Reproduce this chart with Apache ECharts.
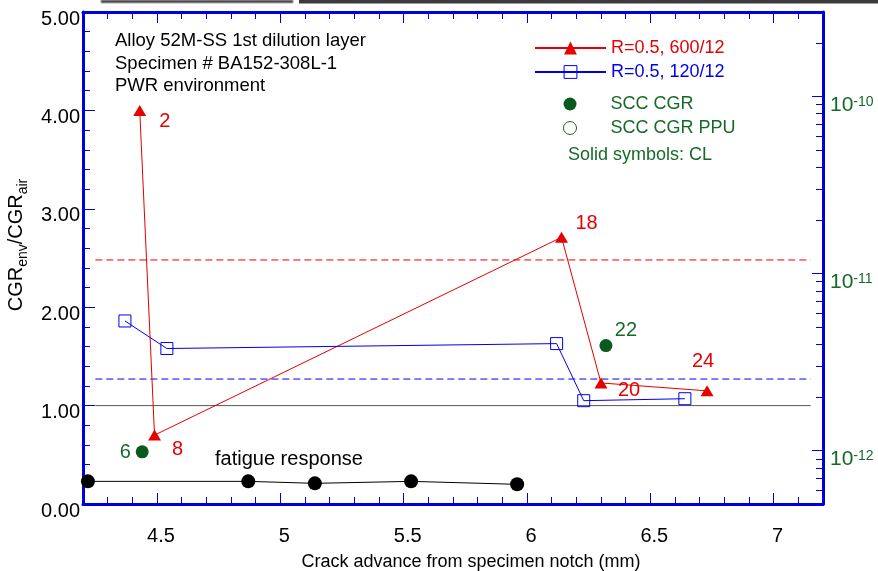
<!DOCTYPE html>
<html>
<head>
<meta charset="utf-8">
<script src="https://cdn.jsdelivr.net/npm/echarts@6/dist/echarts.min.js"></script>
<style>
  html, body { margin: 0; padding: 0; background: #fff; }
  #chart { width: 878px; height: 571px; }
</style>
</head>
<body>
<div id="chart"></div>
<script>
// ---- data: crack advance (mm) vs. CGR_env / CGR_air ----
const red600X   = [4.43, 4.49, 6.14, 6.30, 6.73];
const red600Y   = [4.00, 0.70, 2.71, 1.23, 1.15];
const red600Ids = ['2', '8', '18', '20', '24'];

const blue120X = [4.37, 4.54, 6.12, 6.23, 6.64];
const blue120Y = [1.86, 1.58, 1.63, 1.05, 1.07];

const sccX   = [4.44, 6.32];
const sccY   = [0.53, 1.61];
const sccIds = ['6', '22'];

const fatigueX = [4.22, 4.87, 5.14, 5.53, 5.96];
const fatigueY = [0.23, 0.23, 0.21, 0.23, 0.20];

// horizontal reference levels and their extent along x
const refRedLevel  = 2.48;
const refBlueLevel = 1.27;
const unityLevel   = 1.0;
const refSpan      = [4.25, 7.15];

// annotation text
const infoLines = ['Alloy 52M-SS 1st dilution layer', 'Specimen # BA152-308L-1', 'PWR environment'];

// axis ticks
const xMajorTicks  = [4.5, 5, 5.5, 6, 6.5, 7];
const rightDecades = [1e-12, 1e-11, 1e-10];
const rightMin = 5e-13, rightMax = 3e-10;

// ---- styling ----
const FONT = '"Liberation Sans", Arial, sans-serif';
const AXIS_BLUE = '#0000dd';
const RED = '#e60000';
const BLUE = '#0000ee';
const GREEN = '#17692a';
const GREEN_DOT = '#0a5a1e';

const labelOffsets = {
  '2': [25, 11], '8': [23, 14], '18': [25, -14], '20': [28, 8], '24': [-4, -29],
  '6': [-17, 1], '22': [20, -15]
};

const xMinorTicks = [];
for (let k = 43; k <= 71; k++) if (k % 5 !== 0) xMinorTicks.push(k / 10);

const rightMinor = [];
[1e-13, 1e-12, 1e-11, 1e-10].forEach(d => {
  for (let m = 2; m <= 9; m++) {
    const v = d * m;
    if (v > rightMin * 1.01 && v < rightMax * 0.99) rightMinor.push(v);
  }
});

function pts(xs, ys) { return xs.map((x, i) => [x, ys[i]]); }
function labelled(xs, ys, ids, color) {
  return xs.map((x, i) => ({
    value: [x, ys[i]],
    label: {
      show: true, formatter: ids[i], position: 'inside', offset: labelOffsets[ids[i]],
      color: color, fontSize: 20, fontFamily: FONT
    }
  }));
}

function axisLine(show) {
  return show ? { show: true, onZero: false, lineStyle: { color: AXIS_BLUE, width: 3 } }
              : { show: false, onZero: false };
}
function tick(length, values) {
  const t = { show: true, inside: true, length: length, lineStyle: { color: AXIS_BLUE, width: 1 } };
  if (values) t.customValues = values;
  return t;
}

function xAxisDef(position, major, withLabels) {
  const ax = {
    type: 'value', position: position, min: 4.2, max: 7.2,
    axisLine: axisLine(major),
    axisTick: tick(major ? 11 : 7, major ? xMajorTicks : xMinorTicks),
    axisLabel: { show: false },
    splitLine: { show: false }
  };
  if (withLabels) {
    ax.axisLabel = { show: true, customValues: xMajorTicks, margin: 22, color: '#000',
                     fontSize: 20, fontFamily: FONT, padding: [0, 0, 0, 8] };
    ax.name = 'Crack advance from specimen notch (mm)';
    ax.nameLocation = 'middle';
    ax.nameGap = 49;
    ax.nameTextStyle = { color: '#000', fontSize: 18, fontFamily: FONT, padding: [0, 0, 0, 36] };
  }
  return ax;
}

const chart = echarts.init(document.getElementById('chart'), null, { renderer: 'canvas' });

chart.setOption({
  animation: false,
  backgroundColor: '#fff',
  grid: { left: 83, right: 55, top: 12, bottom: 67, containLabel: false, outerBoundsMode: 'none' },
  xAxis: [
    xAxisDef('bottom', true, true),
    xAxisDef('top', true, false),
    xAxisDef('bottom', false, false),
    xAxisDef('top', false, false)
  ],
  yAxis: [
    {
      type: 'value', position: 'left', min: 0, max: 5, interval: 1,
      axisLine: axisLine(true),
      axisTick: tick(12),
      minorTick: { show: true, splitNumber: 5, length: 7, lineStyle: { color: AXIS_BLUE, width: 1 } },
      axisLabel: { formatter: v => v.toFixed(2), margin: 3, color: '#000', fontSize: 20,
                   fontFamily: FONT, verticalAlign: 'top', lineHeight: 14 },
      splitLine: { show: false },
      name: '{m|CGR}{s|env}{m|/CGR}{s|air}',
      nameLocation: 'middle', nameRotate: 90, nameGap: 33,
      nameTextStyle: {
        color: '#000', fontFamily: FONT, padding: [0, 0, 0, 26],
        rich: {
          m: { fontSize: 20, lineHeight: 20, verticalAlign: 'top', fontFamily: FONT, color: '#000' },
          s: { fontSize: 14, lineHeight: 14, verticalAlign: 'top', padding: [10, 0, 0, 0], fontFamily: FONT, color: '#000' }
        }
      }
    },
    {
      type: 'log', logBase: 10, position: 'right', min: rightMin, max: rightMax,
      axisLine: axisLine(true),
      axisTick: tick(11, rightDecades),
      axisLabel: {
        customValues: rightDecades, margin: 7, padding: [18, 0, 0, 0],
        fontSize: 20, fontFamily: FONT, color: GREEN,
        formatter: v => '{b|10}{e|' + Math.round(Math.log10(v)) + '}',
        rich: {
          b: { fontSize: 21, lineHeight: 21, verticalAlign: 'bottom', color: GREEN, fontFamily: FONT },
          e: { fontSize: 14, lineHeight: 14, verticalAlign: 'top', color: GREEN, fontFamily: FONT }
        }
      },
      splitLine: { show: false }
    },
    {
      // minor log ticks on the right edge
      type: 'log', logBase: 10, position: 'right', min: rightMin, max: rightMax,
      axisLine: axisLine(false),
      axisTick: tick(7, rightMinor),
      axisLabel: { show: false },
      splitLine: { show: false }
    }
  ],
  legend: [
    {
      orient: 'vertical', left: 534, top: 39, padding: 0,
      itemWidth: 71, itemHeight: 16, itemGap: 6,
      selectedMode: false,
      textStyle: { fontSize: 18, fontFamily: FONT },
      data: [
        { name: 'R=0.5, 600/12', textStyle: { color: RED } },
        { name: 'R=0.5, 120/12', textStyle: { color: BLUE }, itemStyle: { borderWidth: 1 } }
      ]
    },
    {
      orient: 'vertical', left: 563, top: 95, padding: 0,
      itemWidth: 71, itemHeight: 13, itemGap: 6,
      selectedMode: false,
      textStyle: { fontSize: 18, fontFamily: FONT, color: GREEN },
      data: [
        { name: 'SCC CGR' },
        { name: 'SCC CGR PPU', itemStyle: { borderWidth: 1 } }
      ]
    }
  ],
  graphic: [
    { type: 'rect', shape: { x: 101, y: 0, width: 192, height: 3 },
      style: { fill: '#4a4a4a', stroke: '#a8a8a8', lineWidth: 1 }, silent: true },
    { type: 'rect', shape: { x: 299, y: 0, width: 579, height: 3.5 },
      style: { fill: '#3a3a3a' }, silent: true },
    { type: 'text', left: 115, top: 30, silent: true,
      style: { text: infoLines.join('\n'), fontSize: 18.5, fontFamily: FONT, fill: '#000', lineHeight: 22.5 } },
    { type: 'text', left: 568, top: 146, silent: true,
      style: { text: 'Solid symbols: CL', fontSize: 18, fontFamily: FONT, fill: GREEN } },
    { type: 'text', left: 215, top: 449, silent: true,
      style: { text: 'fatigue response', fontSize: 20, fontFamily: FONT, fill: '#000' } }
  ],
  series: [
    { type: 'line', name: 'ref600', data: pts(refSpan, refSpan.map(() => refRedLevel)),
      symbol: 'none', silent: true, z: 1, lineStyle: { color: RED, width: 1, type: [7, 4] } },
    { type: 'line', name: 'ref120', data: pts(refSpan, refSpan.map(() => refBlueLevel)),
      symbol: 'none', silent: true, z: 1, lineStyle: { color: BLUE, width: 1, type: [7, 4] } },
    { type: 'line', name: 'unity', data: pts(refSpan, refSpan.map(() => unityLevel)),
      symbol: 'none', silent: true, z: 1, lineStyle: { color: '#555', width: 1 } },
    { type: 'line', name: 'fatigue response', data: pts(fatigueX, fatigueY),
      symbol: 'circle', symbolSize: 14, itemStyle: { color: '#000' }, lineStyle: { color: '#000', width: 1 } },
    { type: 'line', name: 'R=0.5, 600/12', data: labelled(red600X, red600Y, red600Ids, RED),
      symbol: 'triangle', symbolSize: [13, 11], itemStyle: { color: RED }, lineStyle: { color: RED, width: 1 } },
    { type: 'line', name: 'R=0.5, 120/12', data: pts(blue120X, blue120Y),
      symbol: 'rect', symbolSize: 12,
      itemStyle: { color: 'rgba(255,255,255,0)', borderColor: BLUE, borderWidth: 1 },
      lineStyle: { color: BLUE, width: 1 } },
    { type: 'scatter', name: 'SCC CGR', data: labelled(sccX, sccY, sccIds, GREEN),
      symbol: 'circle', symbolSize: 13, itemStyle: { color: GREEN_DOT, opacity: 1 } },
    { type: 'scatter', name: 'SCC CGR PPU', data: [],
      symbol: 'circle', symbolSize: 12, itemStyle: { color: '#fff', borderColor: GREEN, borderWidth: 1, opacity: 1 } }
  ]
});
</script>
</body>
</html>
